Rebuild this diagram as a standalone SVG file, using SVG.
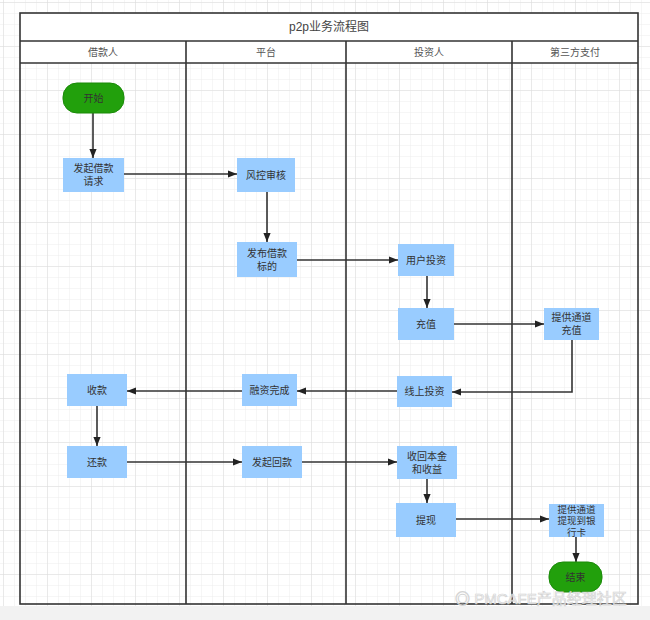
<svg xmlns="http://www.w3.org/2000/svg" width="650" height="620" viewBox="0 0 650 620">
<defs>
<pattern id="minor" width="11" height="11" patternUnits="userSpaceOnUse" x="4" y="3">
<path d="M11 0V11M0 11H11" fill="none" stroke="#ececec" stroke-width="1"/>
</pattern>
<pattern id="major" width="44" height="44" patternUnits="userSpaceOnUse" x="4" y="3">
<path d="M44 0V44M0 44H44" fill="none" stroke="#dcdcdc" stroke-width="1"/>
</pattern>
<marker id="arr" viewBox="0 0 10 10" refX="10" refY="5" markerWidth="9" markerHeight="9" markerUnits="userSpaceOnUse" orient="auto">
<path d="M0 1L10 5L0 9Z" fill="#222"/>
</marker>
<style>
.box{fill:#99ccff;}
.pill{fill:#22a00c;stroke:#1a8a08;stroke-width:1;}
.t{font-family:"Liberation Sans","Noto Sans CJK SC",sans-serif;font-size:10px;fill:#333;text-anchor:middle;}
.s{font-size:9.5px;}
.hd{font-family:"Liberation Sans","Noto Sans CJK SC",sans-serif;font-size:10px;fill:#555;text-anchor:middle;}
.ttl{font-family:"Liberation Sans","Noto Sans CJK SC",sans-serif;font-size:12px;fill:#444;text-anchor:middle;}
.c{fill:none;stroke:#333;stroke-width:1.6;marker-end:url(#arr);}
.ln{fill:none;stroke:#333;stroke-width:1.6;}
</style>
</defs>
<rect width="650" height="620" fill="#fff"/>
<rect width="650" height="606" fill="url(#minor)"/>
<rect width="650" height="606" fill="url(#major)"/>
<rect y="606" width="650" height="14" fill="#f2f2f2"/>

<g id="frame">
<rect x="20" y="13" width="618" height="50" fill="#fff"/>
<rect x="20" y="13" width="618" height="591" class="ln"/>
<line x1="20" y1="41" x2="638" y2="41" class="ln"/>
<line x1="20" y1="63" x2="638" y2="63" class="ln"/>
<line x1="186" y1="41" x2="186" y2="604" class="ln"/>
<line x1="346" y1="41" x2="346" y2="604" class="ln"/>
<line x1="512" y1="41" x2="512" y2="604" class="ln"/>
<text x="329" y="31" class="ttl">p2p业务流程图</text>
<text x="103" y="56" class="hd">借款人</text>
<text x="266" y="56" class="hd">平台</text>
<text x="429" y="56" class="hd">投资人</text>
<text x="575" y="56" class="hd">第三方支付</text>
</g>

<g id="connectors">
<path d="M93 113V158" class="c"/>
<path d="M124 174H237" class="c"/>
<path d="M267 192V242" class="c"/>
<path d="M297 260H398" class="c"/>
<path d="M427 276V308" class="c"/>
<path d="M454 324H544" class="c"/>
<path d="M572 340V392H452" class="c"/>
<path d="M397 391H297" class="c"/>
<path d="M242 391H127" class="c"/>
<path d="M97 406V446" class="c"/>
<path d="M127 462H242" class="c"/>
<path d="M302 462H397" class="c"/>
<path d="M427 479V503" class="c"/>
<path d="M456 519H549" class="c"/>
<path d="M576 537V562" class="c"/>
</g>

<g id="start"><rect x="63" y="83" width="61" height="30" rx="14" class="pill"/><text x="93.5" y="101.5" class="t">开始</text></g>
<g id="apply"><rect x="63" y="158" width="61" height="34" class="box"/><text x="93.5" y="172" class="t">发起借款</text><text x="93.5" y="185" class="t">请求</text></g>
<g id="risk"><rect x="237" y="158" width="58" height="34" class="box"/><text x="266" y="178.5" class="t">风控审核</text></g>
<g id="publish"><rect x="237" y="242" width="60" height="35" class="box"/><text x="267" y="256.5" class="t">发布借款</text><text x="267" y="269.5" class="t">标的</text></g>
<g id="invest"><rect x="398" y="244" width="56" height="32" class="box"/><text x="426" y="263.5" class="t">用户投资</text></g>
<g id="recharge"><rect x="398" y="308" width="56" height="32" class="box"/><text x="426" y="327.5" class="t">充值</text></g>
<g id="channel"><rect x="544" y="308" width="55" height="32" class="box"/><text x="571.5" y="321" class="t">提供通道</text><text x="571.5" y="334" class="t">充值</text></g>
<g id="online"><rect x="397" y="376" width="55" height="31" class="box"/><text x="424.5" y="395" class="t">线上投资</text></g>
<g id="financed"><rect x="242" y="374" width="55" height="32" class="box"/><text x="269.5" y="393.5" class="t">融资完成</text></g>
<g id="receive"><rect x="67" y="374" width="60" height="32" class="box"/><text x="97" y="393.5" class="t">收款</text></g>
<g id="repay"><rect x="67" y="446" width="60" height="32" class="box"/><text x="97" y="465.5" class="t">还款</text></g>
<g id="payback"><rect x="242" y="446" width="60" height="32" class="box"/><text x="272" y="465.5" class="t">发起回款</text></g>
<g id="collect"><rect x="397" y="446" width="60" height="33" class="box"/><text x="427" y="459.5" class="t">收回本金</text><text x="427" y="472.5" class="t">和收益</text></g>
<g id="withdraw"><rect x="396" y="503" width="60" height="34" class="box"/><text x="426" y="523.5" class="t">提现</text></g>
<g id="bank"><rect x="549" y="504" width="55" height="33" class="box"/><text x="576.5" y="512.5" class="t s">提供通道</text><text x="576.5" y="524" class="t s">提现到银</text><text x="576.5" y="535.5" class="t s">行卡</text></g>
<g id="end"><rect x="549" y="562" width="53" height="30" rx="14" class="pill"/><text x="575.5" y="580.5" class="t">结束</text></g>

<text x="455" y="604" font-family="'Liberation Sans','Noto Sans CJK SC',sans-serif" font-size="15" fill="#fff" stroke="#d0d0d0" stroke-width="0.7" opacity="0.9">◎ PMCAFE产品经理社区</text>
</svg>
